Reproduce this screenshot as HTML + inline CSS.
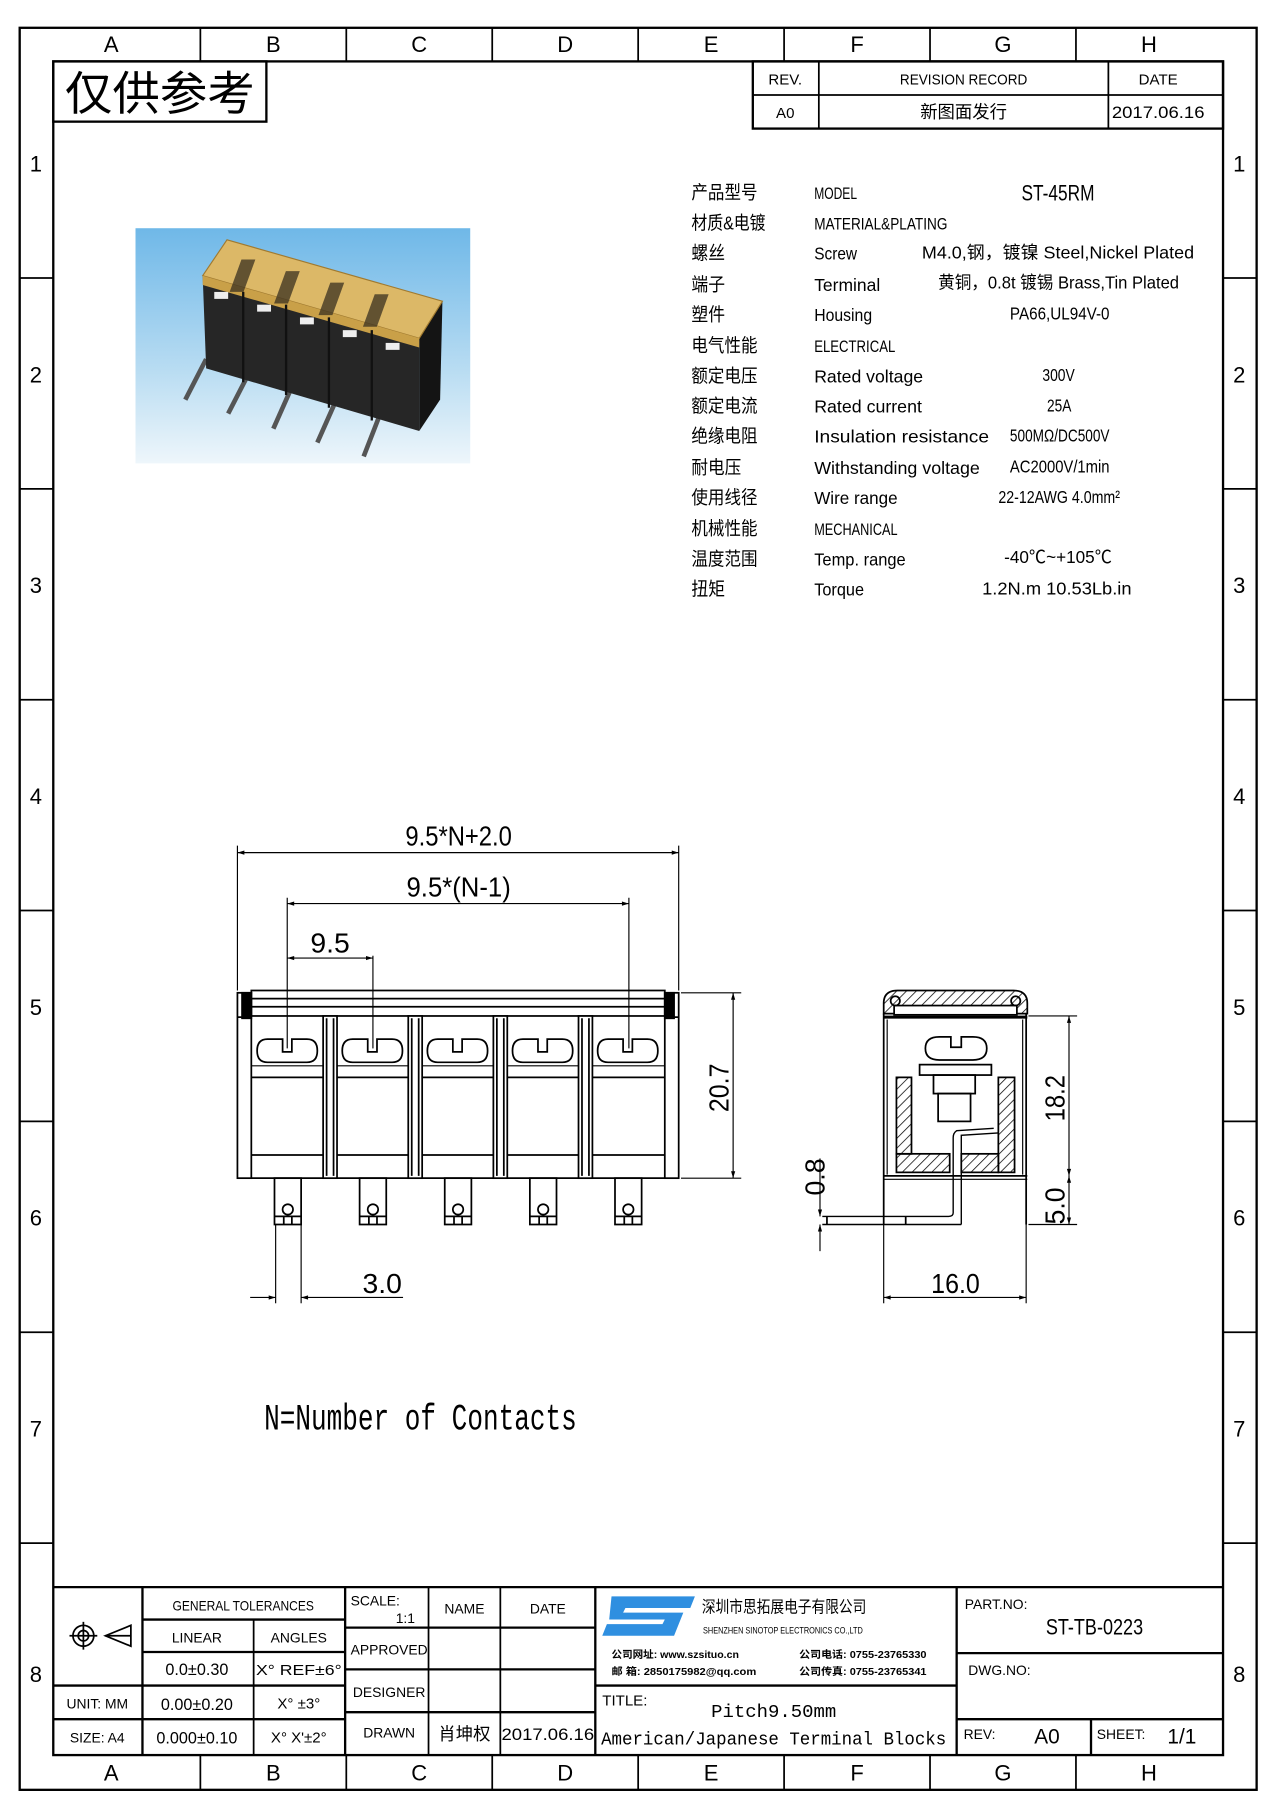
<!DOCTYPE html>
<html><head><meta charset="utf-8"><style>
html,body{margin:0;padding:0;background:#fff;}
svg{display:block;}
text{font-family:"Liberation Sans","Noto Sans CJK SC",sans-serif;fill:#000;}
.s{font-family:"Liberation Mono","Noto Sans CJK SC",monospace;}
</style></head><body>
<svg width="1274" height="1813" viewBox="0 0 1100 1565" preserveAspectRatio="none" xmlns="http://www.w3.org/2000/svg">
<defs>
<pattern id="h" width="6" height="6" patternUnits="userSpaceOnUse" patternTransform="rotate(45)"><line x1="0" y1="0" x2="0" y2="6" stroke="#000" stroke-width="1.3"/></pattern>
<linearGradient id="bg" x1="0" y1="0" x2="0" y2="1"><stop offset="0" stop-color="#6fb8e8"/><stop offset="0.6" stop-color="#b8dcf2"/><stop offset="1" stop-color="#eef6fb"/></linearGradient>
<marker id="a" viewBox="0 0 10 10" refX="10" refY="5" markerWidth="8" markerHeight="6" orient="auto-start-reverse"><path d="M0,2 L10,5 L0,8 z" fill="#000"/></marker>
</defs>
<g fill="none" stroke="#000">
<rect x="17" y="24" width="1068" height="1521" stroke-width="2"/>
<rect x="46" y="53" width="1010" height="1462" stroke-width="2"/>
<g stroke-width="1.5">
<line x1="173" y1="24" x2="173" y2="53"/><line x1="299" y1="24" x2="299" y2="53"/><line x1="425" y1="24" x2="425" y2="53"/><line x1="551" y1="24" x2="551" y2="53"/><line x1="677" y1="24" x2="677" y2="53"/><line x1="803" y1="24" x2="803" y2="53"/><line x1="929" y1="24" x2="929" y2="53"/>
<line x1="173" y1="1515" x2="173" y2="1545"/><line x1="299" y1="1515" x2="299" y2="1545"/><line x1="425" y1="1515" x2="425" y2="1545"/><line x1="551" y1="1515" x2="551" y2="1545"/><line x1="677" y1="1515" x2="677" y2="1545"/><line x1="803" y1="1515" x2="803" y2="1545"/><line x1="929" y1="1515" x2="929" y2="1545"/>
<line x1="17" y1="240" x2="46" y2="240"/><line x1="17" y1="422" x2="46" y2="422"/><line x1="17" y1="604" x2="46" y2="604"/><line x1="17" y1="786" x2="46" y2="786"/><line x1="17" y1="968" x2="46" y2="968"/><line x1="17" y1="1150" x2="46" y2="1150"/><line x1="17" y1="1332" x2="46" y2="1332"/>
<line x1="1056" y1="240" x2="1085" y2="240"/><line x1="1056" y1="422" x2="1085" y2="422"/><line x1="1056" y1="604" x2="1085" y2="604"/><line x1="1056" y1="786" x2="1085" y2="786"/><line x1="1056" y1="968" x2="1085" y2="968"/><line x1="1056" y1="1150" x2="1085" y2="1150"/><line x1="1056" y1="1332" x2="1085" y2="1332"/>
</g>
<rect x="46" y="53" width="184" height="52" stroke-width="2"/>
<rect x="650" y="53" width="406" height="58" stroke-width="2"/>
<line x1="650" y1="82" x2="1056" y2="82" stroke-width="1.5"/>
<line x1="707" y1="53" x2="707" y2="111" stroke-width="1.5"/>
<line x1="957" y1="53" x2="957" y2="111" stroke-width="1.5"/>
</g>
<g font-size="19" text-anchor="middle">
<text x="96" y="45">A</text><text x="236" y="45">B</text><text x="362" y="45">C</text><text x="488" y="45">D</text><text x="614" y="45">E</text><text x="740" y="45">F</text><text x="866" y="45">G</text><text x="992" y="45">H</text>
<text x="96" y="1537">A</text><text x="236" y="1537">B</text><text x="362" y="1537">C</text><text x="488" y="1537">D</text><text x="614" y="1537">E</text><text x="740" y="1537">F</text><text x="866" y="1537">G</text><text x="992" y="1537">H</text>
<text x="31" y="148">1</text><text x="31" y="330">2</text><text x="31" y="512">3</text><text x="31" y="694">4</text><text x="31" y="876">5</text><text x="31" y="1058">6</text><text x="31" y="1240">7</text><text x="31" y="1452">8</text>
<text x="1070" y="148">1</text><text x="1070" y="330">2</text><text x="1070" y="512">3</text><text x="1070" y="694">4</text><text x="1070" y="876">5</text><text x="1070" y="1058">6</text><text x="1070" y="1240">7</text><text x="1070" y="1452">8</text>
</g>
<text x="56" y="95" font-size="40" textLength="164" lengthAdjust="spacingAndGlyphs">仅供参考</text>
<g font-size="13" text-anchor="middle">
<text x="678" y="73">REV.</text><text x="832" y="73" textLength="110" lengthAdjust="spacingAndGlyphs">REVISION RECORD</text><text x="1000" y="73">DATE</text>
<text x="678" y="102">A0</text><text x="832" y="102" font-size="15">新图面发行</text><text x="1000" y="102" font-size="14" textLength="80" lengthAdjust="spacingAndGlyphs">2017.06.16</text>
</g>
<!-- photo -->
<rect x="117" y="197" width="289" height="203" fill="url(#bg)"/>
<g>
<g stroke="#555" stroke-width="4"><line x1="178" y1="310" x2="160" y2="345"/><line x1="215" y1="322" x2="197" y2="357"/><line x1="252" y1="334" x2="236" y2="370"/><line x1="290" y1="346" x2="274" y2="382"/><line x1="328" y1="358" x2="314" y2="394"/></g>
<polygon points="175,238 362,292 362,372 178,318" fill="#262626"/>
<polygon points="362,292 382,260 380,345 362,372" fill="#141414"/>
<polygon points="175,238 196,207 382,260 362,292" fill="#dcb867" stroke="#a07a30"/>
<polygon points="175,238 362,292 362,300 175,246" fill="#c9a048"/>
<g fill="#3a3020" opacity="0.75"><rect x="210" y="224" width="12" height="28" transform="skewX(-20) translate(80,0)"/><rect x="246" y="234" width="12" height="28" transform="skewX(-20) translate(86,0)"/><rect x="282" y="244" width="12" height="28" transform="skewX(-20) translate(92,0)"/><rect x="318" y="254" width="12" height="28" transform="skewX(-20) translate(98,0)"/></g>
<g fill="#eee"><rect x="185" y="252" width="12" height="6"/><rect x="222" y="263" width="12" height="6"/><rect x="259" y="274" width="12" height="6"/><rect x="296" y="285" width="12" height="6"/><rect x="333" y="296" width="12" height="6"/></g>
<g stroke="#111" stroke-width="2"><line x1="210" y1="252" x2="210" y2="330"/><line x1="247" y1="263" x2="247" y2="341"/><line x1="284" y1="274" x2="284" y2="352"/><line x1="321" y1="285" x2="321" y2="363"/></g>
</g>
<!-- specs -->
<g font-size="16">
<text x="597" y="172" textLength="57" lengthAdjust="spacingAndGlyphs">产品型号</text><text x="703" y="172" font-size="14" textLength="37" lengthAdjust="spacingAndGlyphs">MODEL</text><text x="882" y="173" font-size="19" textLength="63" lengthAdjust="spacingAndGlyphs">ST-45RM</text>
<text x="597" y="198" textLength="64" lengthAdjust="spacingAndGlyphs">材质&amp;电镀</text><text x="703" y="198" font-size="14" textLength="115" lengthAdjust="spacingAndGlyphs">MATERIAL&amp;PLATING</text>
<text x="597" y="224" textLength="29" lengthAdjust="spacingAndGlyphs">螺丝</text><text x="703" y="224" font-size="15" textLength="37" lengthAdjust="spacingAndGlyphs">Screw</text><text x="796" y="223" font-size="15" textLength="235" lengthAdjust="spacingAndGlyphs">M4.0,钢，镀镍 Steel,Nickel Plated</text>
<text x="597" y="251" textLength="29" lengthAdjust="spacingAndGlyphs">端子</text><text x="703" y="251" font-size="15" textLength="57" lengthAdjust="spacingAndGlyphs">Terminal</text><text x="810" y="249" font-size="15" textLength="208" lengthAdjust="spacingAndGlyphs">黄铜，0.8t 镀锡 Brass,Tin Plated</text>
<text x="597" y="277" textLength="29" lengthAdjust="spacingAndGlyphs">塑件</text><text x="703" y="277" font-size="15" textLength="50" lengthAdjust="spacingAndGlyphs">Housing</text><text x="872" y="276" font-size="15" textLength="86" lengthAdjust="spacingAndGlyphs">PA66,UL94V-0</text>
<text x="597" y="304" textLength="57" lengthAdjust="spacingAndGlyphs">电气性能</text><text x="703" y="304" font-size="14" textLength="70" lengthAdjust="spacingAndGlyphs">ELECTRICAL</text>
<text x="597" y="330" textLength="57" lengthAdjust="spacingAndGlyphs">额定电压</text><text x="703" y="330" font-size="15" textLength="94" lengthAdjust="spacingAndGlyphs">Rated voltage</text><text x="900" y="329" font-size="15" textLength="28" lengthAdjust="spacingAndGlyphs">300V</text>
<text x="597" y="356" textLength="57" lengthAdjust="spacingAndGlyphs">额定电流</text><text x="703" y="356" font-size="15" textLength="93" lengthAdjust="spacingAndGlyphs">Rated current</text><text x="904" y="355" font-size="15" textLength="21" lengthAdjust="spacingAndGlyphs">25A</text>
<text x="597" y="382" textLength="57" lengthAdjust="spacingAndGlyphs">绝缘电阻</text><text x="703" y="382" font-size="15" textLength="151" lengthAdjust="spacingAndGlyphs">Insulation resistance</text><text x="872" y="381" font-size="15" textLength="86" lengthAdjust="spacingAndGlyphs">500MΩ/DC500V</text>
<text x="597" y="409" textLength="43" lengthAdjust="spacingAndGlyphs">耐电压</text><text x="703" y="409" font-size="15" textLength="143" lengthAdjust="spacingAndGlyphs">Withstanding voltage</text><text x="872" y="408" font-size="15" textLength="86" lengthAdjust="spacingAndGlyphs">AC2000V/1min</text>
<text x="597" y="435" textLength="57" lengthAdjust="spacingAndGlyphs">使用线径</text><text x="703" y="435" font-size="15" textLength="72" lengthAdjust="spacingAndGlyphs">Wire range</text><text x="862" y="434" font-size="15" textLength="105" lengthAdjust="spacingAndGlyphs">22-12AWG 4.0mm²</text>
<text x="597" y="462" textLength="57" lengthAdjust="spacingAndGlyphs">机械性能</text><text x="703" y="462" font-size="14" textLength="72" lengthAdjust="spacingAndGlyphs">MECHANICAL</text>
<text x="597" y="488" textLength="57" lengthAdjust="spacingAndGlyphs">温度范围</text><text x="703" y="488" font-size="15" textLength="79" lengthAdjust="spacingAndGlyphs">Temp. range</text><text x="867" y="486" font-size="15" textLength="93" lengthAdjust="spacingAndGlyphs">-40℃~+105℃</text>
<text x="597" y="514" textLength="29" lengthAdjust="spacingAndGlyphs">扭矩</text><text x="703" y="514" font-size="15" textLength="43" lengthAdjust="spacingAndGlyphs">Torque</text><text x="848" y="513" font-size="15" textLength="129" lengthAdjust="spacingAndGlyphs">1.2N.m  10.53Lb.in</text>
</g>
<!-- front view -->
<g fill="none" stroke="#000" stroke-width="1.5">
<line x1="205" y1="730" x2="205" y2="855" stroke-width="1"/><line x1="586" y1="730" x2="586" y2="855" stroke-width="1"/>
<line x1="205" y1="736" x2="586" y2="736" stroke-width="1" marker-start="url(#a)" marker-end="url(#a)"/>
<line x1="248" y1="775" x2="248" y2="905" stroke-width="1"/><line x1="543" y1="775" x2="543" y2="905" stroke-width="1"/>
<line x1="248" y1="780" x2="543" y2="780" stroke-width="1" marker-start="url(#a)" marker-end="url(#a)"/>
<line x1="322" y1="825" x2="322" y2="905" stroke-width="1"/>
<line x1="248" y1="827" x2="322" y2="827" stroke-width="1" marker-start="url(#a)" marker-end="url(#a)"/>
<rect x="217" y="855" width="357" height="22"/>
<line x1="217" y1="862" x2="574" y2="862"/><line x1="217" y1="869" x2="574" y2="869"/>
<rect x="205" y="857" width="12" height="160"/><rect x="574" y="857" width="12" height="160"/>
<rect x="209" y="857" width="8" height="22" fill="#000"/><rect x="574" y="857" width="8" height="22" fill="#000"/>
<line x1="205" y1="878" x2="217" y2="878"/><line x1="574" y1="878" x2="586" y2="878"/>
<line x1="217" y1="1017" x2="574" y2="1017"/>
<line x1="217" y1="997" x2="574" y2="997"/>
<line x1="217" y1="930" x2="574" y2="930"/>
<line x1="217" y1="920" x2="574" y2="920" stroke-width="1"/>
<g id="div"><rect x="279" y="877" width="12" height="140" fill="#fff"/><line x1="282" y1="879" x2="282" y2="1015"/><line x1="288" y1="879" x2="288" y2="1015"/></g>
<use href="#div" x="73.5"/><use href="#div" x="147"/><use href="#div" x="220.5"/>
<g id="scr"><path d="M231,897 Q222,897 222,907 Q222,917 231,917 L265,917 Q274,917 274,907 Q274,897 265,897 L252,897 L252,908 L244,908 L244,897 Z"/>
<rect x="237" y="1017" width="23" height="40"/><circle cx="248.5" cy="1044" r="4.5"/><line x1="237" y1="1050" x2="260" y2="1050"/><line x1="245" y1="1050" x2="245" y2="1057"/><line x1="252" y1="1050" x2="252" y2="1057"/></g>
<use href="#scr" x="73.5"/><use href="#scr" x="147"/><use href="#scr" x="220.5"/><use href="#scr" x="294"/>
<line x1="238" y1="1057" x2="238" y2="1125" stroke-width="1"/><line x1="260" y1="1057" x2="260" y2="1125" stroke-width="1"/>
<line x1="216" y1="1120" x2="238" y2="1120" stroke-width="1" marker-end="url(#a)"/>
<line x1="348" y1="1120" x2="260" y2="1120" stroke-width="1" marker-end="url(#a)"/>
<line x1="588" y1="857" x2="640" y2="857" stroke-width="1"/><line x1="588" y1="1017" x2="640" y2="1017" stroke-width="1"/>
<line x1="633" y1="857" x2="633" y2="1017" stroke-width="1" marker-start="url(#a)" marker-end="url(#a)"/>
</g>
<g font-size="24" class="s">
<text x="350" y="730" textLength="92" lengthAdjust="spacingAndGlyphs">9.5*N+2.0</text>
<text x="351" y="774" textLength="90" lengthAdjust="spacingAndGlyphs">9.5*(N-1)</text>
<text x="268" y="822" textLength="34" lengthAdjust="spacingAndGlyphs">9.5</text>
<text x="313" y="1116" textLength="34" lengthAdjust="spacingAndGlyphs">3.0</text>
<text transform="translate(629,960) rotate(-90)" textLength="42" lengthAdjust="spacingAndGlyphs">20.7</text>
</g>
<!-- side view -->
<g fill="none" stroke="#000" stroke-width="1.5">
<path d="M763,875 L763,866 Q763,855 775,855 L875,855 Q887,855 887,866 L887,875 Z" fill="url(#h)"/>
<rect x="772" y="868" width="106" height="8" fill="#fff"/>
<circle cx="773" cy="864" r="4"/><circle cx="877" cy="864" r="4"/>
<line x1="763" y1="878" x2="887" y2="878" stroke-width="2.5"/>
<line x1="763" y1="875" x2="763" y2="1057"/><line x1="886" y1="875" x2="886" y2="1057"/>
<line x1="766" y1="880" x2="766" y2="1014" stroke-width="1"/><line x1="883" y1="880" x2="883" y2="1014" stroke-width="1"/>
<line x1="763" y1="1015" x2="887" y2="1015"/><line x1="763" y1="1018" x2="887" y2="1018" stroke-width="1"/>
<path d="M811,895 Q799,895 799,905 Q799,915 811,915 L840,915 Q852,915 852,905 Q852,895 840,895 L830,895 L830,904 L821,904 L821,895 Z"/>
<rect x="794" y="919" width="62" height="9"/>
<rect x="806" y="928" width="36" height="16"/>
<rect x="810" y="944" width="28" height="24"/>
<rect x="774" y="930" width="13" height="66" fill="url(#h)"/>
<rect x="862" y="930" width="14" height="82" fill="url(#h)"/>
<rect x="774" y="996" width="46" height="16" fill="url(#h)"/>
<rect x="830" y="996" width="32" height="16" fill="url(#h)"/>
<path d="M862,978 L830,980 L830,1057" stroke-width="1.2"/>
<path d="M858,974 L826,976 Q823,978 823,982 L823,1047 Q823,1050 819,1050 L710,1050" stroke-width="1.2"/>
<line x1="710" y1="1057" x2="830" y2="1057" stroke-width="1.2"/>
<line x1="714" y1="1050" x2="714" y2="1057"/><line x1="782" y1="1050" x2="782" y2="1057"/>
<line x1="888" y1="877" x2="930" y2="877" stroke-width="1"/><line x1="888" y1="1057" x2="930" y2="1057" stroke-width="1"/>
<line x1="923" y1="877" x2="923" y2="1015" stroke-width="1" marker-start="url(#a)" marker-end="url(#a)"/>
<line x1="923" y1="1015" x2="923" y2="1057" stroke-width="1" marker-start="url(#a)" marker-end="url(#a)"/>
<line x1="708" y1="1000" x2="708" y2="1050" stroke-width="1" marker-end="url(#a)"/>
<line x1="708" y1="1080" x2="708" y2="1057" stroke-width="1" marker-end="url(#a)"/>
<line x1="763" y1="1057" x2="763" y2="1125" stroke-width="1"/><line x1="886" y1="1057" x2="886" y2="1125" stroke-width="1"/>
<line x1="763" y1="1120" x2="886" y2="1120" stroke-width="1" marker-start="url(#a)" marker-end="url(#a)"/>
</g>
<g font-size="24" class="s">
<text transform="translate(919,968) rotate(-90)" textLength="40" lengthAdjust="spacingAndGlyphs">18.2</text>
<text transform="translate(919,1057) rotate(-90)" textLength="32" lengthAdjust="spacingAndGlyphs">5.0</text>
<text transform="translate(712,1032) rotate(-90)" textLength="32" lengthAdjust="spacingAndGlyphs">0.8</text>
<text x="804" y="1116" textLength="42" lengthAdjust="spacingAndGlyphs">16.0</text>
</g>
<text x="228" y="1234" font-size="32" class="s" textLength="270" lengthAdjust="spacingAndGlyphs">N=Number of Contacts</text>
<!-- title block -->
<g fill="none" stroke="#000" stroke-width="2">
<line x1="46" y1="1370" x2="1056" y2="1370"/>
<line x1="123" y1="1370" x2="123" y2="1515"/>
<line x1="219" y1="1398" x2="219" y2="1515" stroke-width="1.5"/>
<line x1="298" y1="1370" x2="298" y2="1515"/>
<line x1="123" y1="1398" x2="298" y2="1398"/><line x1="123" y1="1426" x2="298" y2="1426"/>
<line x1="46" y1="1455" x2="298" y2="1455"/><line x1="46" y1="1484" x2="298" y2="1484"/>
<line x1="370" y1="1370" x2="370" y2="1515" stroke-width="1.5"/>
<line x1="432" y1="1370" x2="432" y2="1515" stroke-width="1.5"/>
<line x1="514" y1="1370" x2="514" y2="1515"/>
<line x1="298" y1="1405" x2="514" y2="1405"/><line x1="298" y1="1441" x2="514" y2="1441"/><line x1="298" y1="1478" x2="514" y2="1478"/>
<line x1="514" y1="1455" x2="826" y2="1455"/>
<line x1="826" y1="1370" x2="826" y2="1515"/>
<line x1="826" y1="1427" x2="1056" y2="1427"/><line x1="826" y1="1484" x2="1056" y2="1484"/>
<line x1="942" y1="1484" x2="942" y2="1515"/>
<g stroke-width="1.5"><circle cx="72" cy="1412" r="9"/><circle cx="72" cy="1412" r="4.5"/><line x1="60" y1="1412" x2="84" y2="1412"/><line x1="72" y1="1400" x2="72" y2="1424"/><path d="M91,1412 L113,1403 L113,1421 Z"/><line x1="91" y1="1412" x2="113" y2="1412"/></g>
</g>
<g font-size="12" text-anchor="middle">
<text x="210" y="1390" textLength="122" lengthAdjust="spacingAndGlyphs">GENERAL TOLERANCES</text>
<text x="170" y="1418">LINEAR</text><text x="258" y="1418">ANGLES</text>
<text x="170" y="1446" font-size="14">0.0±0.30</text><text x="258" y="1446" font-size="13" textLength="74" lengthAdjust="spacingAndGlyphs">X° REF±6°</text>
<text x="84" y="1475">UNIT: MM</text><text x="170" y="1476" font-size="14">0.00±0.20</text><text x="258" y="1475" font-size="13">X° ±3°</text>
<text x="84" y="1504">SIZE: A4</text><text x="170" y="1505" font-size="14">0.000±0.10</text><text x="258" y="1504" font-size="13">X° X'±2°</text>
<text x="324" y="1386" text-anchor="middle">SCALE:</text><text x="350" y="1401">1:1</text>
<text x="401" y="1393">NAME</text><text x="473" y="1393">DATE</text>
<text x="336" y="1428">APPROVED</text><text x="336" y="1465">DESIGNER</text><text x="336" y="1500">DRAWN</text>
<text x="401" y="1502" font-size="15">肖坤权</text><text x="473" y="1502" font-size="14" textLength="80" lengthAdjust="spacingAndGlyphs">2017.06.16</text>
</g>
<!-- company -->
<g>
<path d="M528,1378 L600,1378 L596,1388 L540,1388 L538,1392 L590,1392 L582,1412 L520,1412 L524,1402 L572,1402 L574,1398 L526,1398 Z" fill="#2f8fe0"/>
<text x="606" y="1392" font-size="14" textLength="142" lengthAdjust="spacingAndGlyphs">深圳市思拓展电子有限公司</text>
<text x="607" y="1410" font-size="8" textLength="138" lengthAdjust="spacingAndGlyphs">SHENZHEN SINOTOP ELECTRONICS CO.,LTD</text>
<text x="528" y="1431" font-size="9" font-weight="bold" textLength="110" lengthAdjust="spacingAndGlyphs">公司网址: www.szsituo.cn</text>
<text x="528" y="1446" font-size="9" font-weight="bold" textLength="125" lengthAdjust="spacingAndGlyphs">邮    箱: 2850175982@qq.com</text>
<text x="690" y="1431" font-size="9" font-weight="bold" textLength="110" lengthAdjust="spacingAndGlyphs">公司电话: 0755-23765330</text>
<text x="690" y="1446" font-size="9" font-weight="bold" textLength="110" lengthAdjust="spacingAndGlyphs">公司传真: 0755-23765341</text>
</g>
<g font-size="13">
<text x="520" y="1472">TITLE:</text>
<text x="614" y="1482" font-size="16" class="s" textLength="108" lengthAdjust="spacingAndGlyphs">Pitch9.50mm</text>
<text x="519" y="1506" font-size="16" class="s" textLength="298" lengthAdjust="spacingAndGlyphs">American/Japanese Terminal Blocks</text>
<text x="833" y="1389" font-size="12">PART.NO:</text>
<text x="903" y="1411" font-size="19" textLength="84" lengthAdjust="spacingAndGlyphs">ST-TB-0223</text>
<text x="836" y="1446" font-size="12">DWG.NO:</text>
<text x="832" y="1501" font-size="12">REV:</text><text x="893" y="1505" font-size="18">A0</text>
<text x="947" y="1501" font-size="12">SHEET:</text><text x="1008" y="1505" font-size="18">1/1</text>
</g>
</svg>
</body></html>
